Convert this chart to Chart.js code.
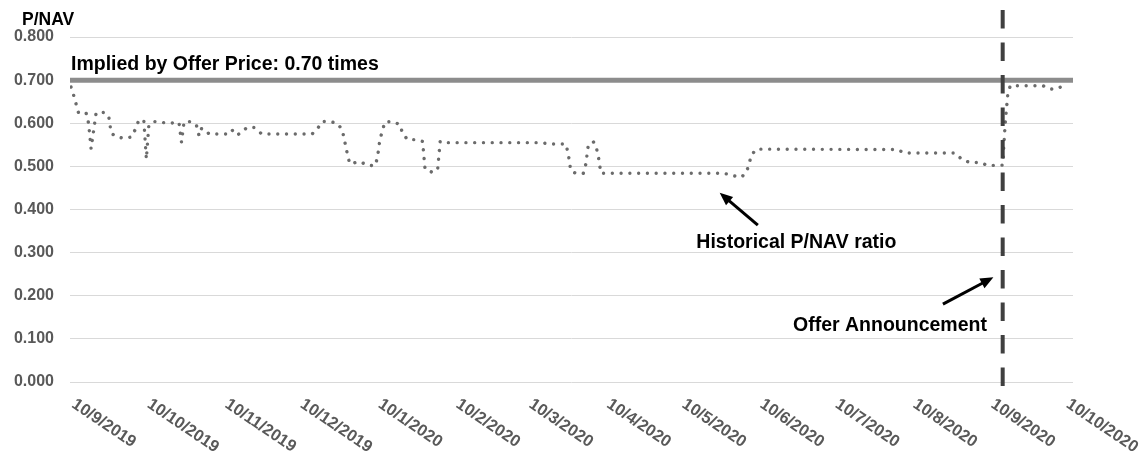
<!DOCTYPE html>
<html>
<head>
<meta charset="utf-8">
<title>P/NAV</title>
<script src="https://cdn.jsdelivr.net/npm/chart.js@4.4.1/dist/chart.umd.min.js"></script>
<style>
  html, body { margin: 0; padding: 0; background: #ffffff; }
  #wrap { width: 1146px; height: 459px; }
</style>
</head>
<body>
<div id="wrap"><canvas id="chart" width="1146" height="459"></canvas></div>
<script>
// Axis tick labels (d/m/yyyy), one per month
const tickLabels = [
  '10/9/2019', '10/10/2019', '10/11/2019', '10/12/2019', '10/1/2020', '10/2/2020',
  '10/3/2020', '10/4/2020', '10/5/2020', '10/6/2020', '10/7/2020', '10/8/2020',
  '10/9/2020', '10/10/2020'
];

// Trading day, counted in calendar days from 10/9/2019
const tradeDay = [
  0, 1, 2, 3, 6, 7, 8, 10, 13, 15, 16, 18, 21, 24, 26, 27, 29, 30, 31, 33,
  39, 43, 44, 45, 48, 50, 51, 52, 53, 55, 62, 64, 66, 68, 70, 73, 76, 96, 98, 100,
  103, 106, 108, 110, 111, 115, 118, 121, 122, 123, 125, 128, 131, 132, 134, 137, 140, 141, 144, 146,
  147, 149, 187, 191, 197, 198, 199, 201, 204, 205, 206, 208, 209, 210, 211, 260, 264, 267, 269, 270,
  271, 273, 329, 332, 352, 355, 358, 362, 365, 371, 372, 373, 374, 387, 390, 393, 396
];

// Historical P/NAV ratio on those days
const pnav = [
  0.684, 0.666, 0.645, 0.624, 0.624, 0.600, 0.541, 0.624, 0.625, 0.617, 0.577, 0.569, 0.565, 0.568, 0.590, 0.608, 0.606, 0.517, 0.596, 0.604,
  0.600, 0.602, 0.556, 0.603, 0.604, 0.594, 0.571, 0.588, 0.586, 0.575, 0.575, 0.585, 0.572, 0.579, 0.590, 0.590, 0.575, 0.575, 0.586, 0.604,
  0.604, 0.600, 0.585, 0.530, 0.506, 0.511, 0.503, 0.501, 0.519, 0.562, 0.603, 0.604, 0.597, 0.577, 0.562, 0.562, 0.558, 0.493, 0.486, 0.493,
  0.558, 0.555, 0.555, 0.552, 0.552, 0.530, 0.490, 0.484, 0.484, 0.505, 0.550, 0.557, 0.548, 0.523, 0.484, 0.484, 0.478, 0.475, 0.487, 0.506,
  0.527, 0.540, 0.539, 0.531, 0.531, 0.515, 0.509, 0.509, 0.502, 0.503, 0.600, 0.665, 0.687, 0.687, 0.679, 0.681, 0.690
];

// P/NAV implied by the offer price
const offerMultiple = 0.70;
const announcementDate = '15/9/2020';

const BASE = Date.UTC(2019, 8, 10);
function dayOf(label) {
  const [d, m, y] = label.split('/').map(Number);
  return (Date.UTC(y, m - 1, d) - BASE) / 86400000;
}
const tickDays = tickLabels.map(dayOf);
const X_MIN = -0.4;
const X_MAX = 399;

const FONT = '"Liberation Sans", Arial, Helvetica, sans-serif';
Chart.defaults.font.family = FONT;

function drawArrow(ctx, x0, y0, x1, y1) {
  const ang = Math.atan2(y1 - y0, x1 - x0);
  const headLen = 13, halfW = 5.5;
  const bx = x1 - Math.cos(ang) * headLen, by = y1 - Math.sin(ang) * headLen;
  ctx.beginPath();
  ctx.moveTo(x0, y0);
  ctx.lineTo(bx + Math.cos(ang) * 2, by + Math.sin(ang) * 2);
  ctx.stroke();
  ctx.beginPath();
  ctx.moveTo(x1, y1);
  ctx.lineTo(bx + Math.sin(ang) * halfW, by - Math.cos(ang) * halfW);
  ctx.lineTo(bx - Math.sin(ang) * halfW, by + Math.cos(ang) * halfW);
  ctx.closePath();
  ctx.fill();
}

const annotationPlugin = {
  id: 'pnavAnnotations',
  afterDatasetsDraw(chart) {
    const { ctx, chartArea, scales: { x } } = chart;
    // offer announcement marker
    const ax = x.getPixelForValue(dayOf(announcementDate));
    ctx.save();
    ctx.strokeStyle = '#404040';
    ctx.lineWidth = 4;
    ctx.setLineDash([18.5, 14]);
    ctx.beginPath();
    ctx.moveTo(ax, chartArea.top - 27);
    ctx.lineTo(ax, chartArea.bottom + 6);
    ctx.stroke();
    ctx.restore();
  },
  afterDraw(chart) {
    const { ctx, chartArea, scales: { x, y } } = chart;
    ctx.save();

    // slanted date labels
    ctx.font = 'bold 16.5px ' + FONT;
    ctx.fillStyle = '#595959';
    ctx.textAlign = 'left';
    ctx.textBaseline = 'top';
    const angle = 34 * Math.PI / 180;
    tickDays.forEach((d, i) => {
      const px = x.getPixelForValue(d);
      ctx.save();
      ctx.translate(px + 7, chartArea.bottom + 14);
      ctx.rotate(angle);
      ctx.fillText(tickLabels[i], 0, 0);
      ctx.restore();
    });

    // axis title
    ctx.fillStyle = '#000000';
    ctx.textBaseline = 'alphabetic';
    ctx.font = 'bold 17.5px ' + FONT;
    ctx.fillText('P/NAV', 22, 25);

    // annotation texts
    ctx.font = 'bold 19.5px ' + FONT;
    ctx.fillText('Implied by Offer Price: 0.70 times', chartArea.left + 1, y.getPixelForValue(offerMultiple) - 10);
    ctx.fillText('Historical P/NAV ratio', x.getPixelForValue(249), y.getPixelForValue(0.310));
    ctx.fillText('Offer Announcement', x.getPixelForValue(287.5), y.getPixelForValue(0.1187));

    // arrows
    ctx.strokeStyle = '#000000';
    ctx.fillStyle = '#000000';
    ctx.lineWidth = 3;
    drawArrow(ctx, x.getPixelForValue(273.5), y.getPixelForValue(0.364), x.getPixelForValue(258.3), y.getPixelForValue(0.439));
    drawArrow(ctx, x.getPixelForValue(347.2), y.getPixelForValue(0.1807), x.getPixelForValue(367.3), y.getPixelForValue(0.2427));

    ctx.restore();
  }
};

new Chart(document.getElementById('chart'), {
  type: 'line',
  data: {
    datasets: [
      {
        label: 'Historical P/NAV ratio',
        data: tradeDay.map((d, i) => ({ x: d, y: pnav[i] })),
        borderColor: '#6b6b6b',
        borderWidth: 3.4,
        borderDash: [0.001, 8.77],
        borderCapStyle: 'round',
        pointRadius: 0,
        tension: 0,
        fill: false,
        order: 2
      },
      {
        label: 'Implied by Offer Price',
        data: [{ x: X_MIN, y: offerMultiple }, { x: X_MAX, y: offerMultiple }],
        borderColor: '#8c8c8c',
        borderWidth: 5,
        pointRadius: 0,
        tension: 0,
        fill: false,
        order: 1
      }
    ]
  },
  options: {
    responsive: false,
    devicePixelRatio: 1,
    animation: false,
    layout: { padding: { top: 37, right: 73, bottom: 0, left: 0 } },
    plugins: { legend: { display: false }, tooltip: { enabled: false } },
    scales: {
      x: {
        type: 'linear',
        min: X_MIN,
        max: X_MAX,
        grid: { display: false },
        border: { display: false },
        ticks: { display: false },
        afterBuildTicks: (s) => { s.ticks = tickDays.map(v => ({ value: v })); },
        afterFit: (s) => { s.height = 77; }
      },
      y: {
        min: 0,
        max: 0.8,
        ticks: {
          stepSize: 0.1,
          padding: 16,
          color: '#595959',
          font: { family: FONT, size: 16, weight: 'bold' },
          callback: (v) => Number(v).toFixed(3)
        },
        grid: { color: '#d9d9d9', lineWidth: 1, drawTicks: false },
        border: { display: false },
        afterFit: (s) => { s.width = 70; }
      }
    }
  },
  plugins: [annotationPlugin]
});
</script>
</body>
</html>
